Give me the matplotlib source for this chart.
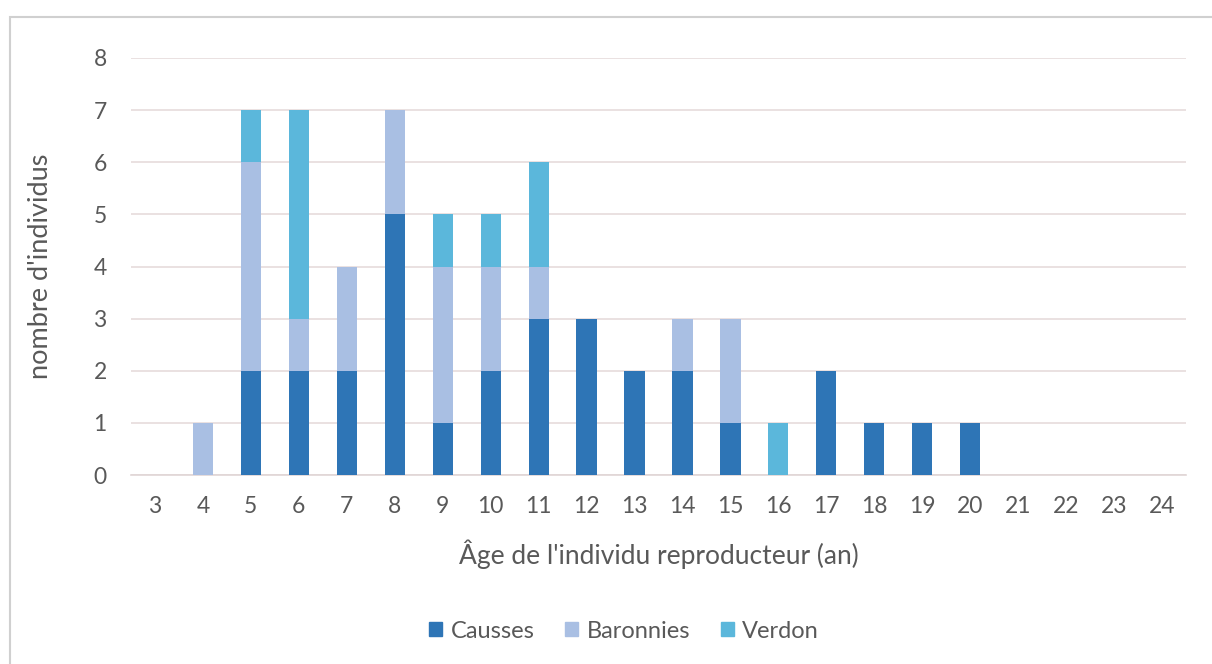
import matplotlib
matplotlib.use("Agg")
import matplotlib.pyplot as plt
from matplotlib.patches import Rectangle, Patch

ages = list(range(3, 25))
causses   = [0, 0, 2, 2, 2, 5, 1, 2, 3, 3, 2, 2, 1, 0, 2, 1, 1, 1, 0, 0, 0, 0]
baronnies = [0, 1, 4, 1, 2, 2, 3, 2, 1, 0, 0, 1, 2, 0, 0, 0, 0, 0, 0, 0, 0, 0]
verdon    = [0, 0, 1, 4, 0, 0, 1, 1, 2, 0, 0, 0, 0, 1, 0, 0, 0, 0, 0, 0, 0, 0]
y_ticks = list(range(0, 9))

c_causses = "#2E75B6"
c_baron = "#A9BFE3"
c_verdon = "#5BB7DB"
txt = "#595959"

plt.rcParams['font.family'] = ['Lato', 'DejaVu Sans']

fig = plt.figure(figsize=(12.12, 6.64), dpi=100)
fig.patch.set_facecolor("white")

# outer chart frame
fig.add_artist(Rectangle((10/1212, -0.05), 1.2, 1 - 17/664 + 0.05,
                         transform=fig.transFigure, fill=False,
                         edgecolor="#d0d0d0", linewidth=1.5))

ax = fig.add_axes([131/1212, 1 - 475/664, 1055/1212, (475 - 58)/664])
w = 0.42
bottom2 = [a + b for a, b in zip(causses, baronnies)]
ax.bar(ages, causses, width=w, color=c_causses, zorder=3)
ax.bar(ages, baronnies, width=w, bottom=causses, color=c_baron, zorder=3)
ax.bar(ages, verdon, width=w, bottom=bottom2, color=c_verdon, zorder=3)

ax.set_xlim(2.5, 24.5)
ax.set_ylim(0, 8)
ax.set_yticks(y_ticks)
ax.set_xticks(ages)
ax.grid(axis="y", color="#e6dcdc", linewidth=1.2, zorder=0)
for s in ["top", "right", "left"]:
    ax.spines[s].set_visible(False)
ax.spines["bottom"].set_color("#e0d6d6")
ax.spines["bottom"].set_linewidth(1.2)
ax.tick_params(axis="both", length=0, labelsize=16.5, colors=txt)
ax.tick_params(axis="x", pad=15)
ax.tick_params(axis="y", pad=27)
for lab in ax.get_yticklabels():
    lab.set_horizontalalignment("left")

ax.set_xlabel("Âge de l'individu reproducteur (an)", fontsize=19, color=txt)
ax.xaxis.set_label_coords(0.5, -0.155)
ax.set_ylabel("nombre d'individus", fontsize=19.5, color=txt)
ax.yaxis.set_label_coords(-0.074, 0.5)

handles = [Patch(color=c_causses, label="Causses"),
           Patch(color=c_baron, label="Baronnies"),
           Patch(color=c_verdon, label="Verdon")]
fig.legend(handles=handles, loc="center", bbox_to_anchor=(624/1212, 1 - 631/664),
           ncol=3, frameon=False, fontsize=17, labelcolor=txt,
           handlelength=0.55, handleheight=0.55, handletextpad=0.35, columnspacing=1.3)

fig.savefig("out.png", dpi=100, facecolor="white")
